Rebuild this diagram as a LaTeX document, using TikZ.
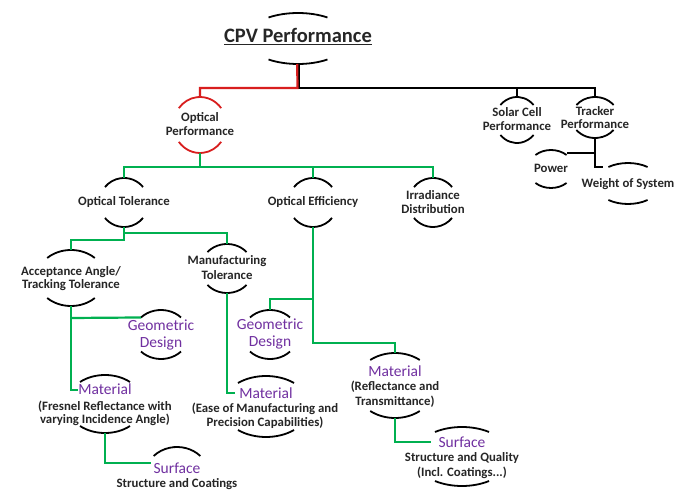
\documentclass[tikz,border=0pt]{standalone}
\usepackage{fontspec}
\setmainfont{Carlito}
\usetikzlibrary{calc}
\definecolor{cgreen}{HTML}{00B050}
\definecolor{cred}{HTML}{D81E1E}
\definecolor{cpurple}{HTML}{7030A0}
\tikzset{
  arcline/.style={line width=1.8pt},
  conn/.style={line width=2.2pt},
  blk/.style={font=\bfseries\fontsize{12.8}{15}\selectfont, text=black!85, inner sep=0pt},
  pur/.style={font=\fontsize{15.5}{18}\selectfont, text=cpurple, inner sep=0pt},
  ttl/.style={font=\bfseries\fontsize{20.5}{24}\selectfont, text=black!85, inner sep=0pt},
}
% name, x, y, rx, ry, angle, colour
\newcommand\arcpair[7]{%
  \coordinate (#1) at (#2,#3);
  \coordinate (#1-t) at (#2,#3-#5);
  \coordinate (#1-b) at (#2,#3+#5);
  \coordinate (#1-tl) at ($(#1)+(180-#6:#4pt and #5pt)$);
  \coordinate (#1-tr) at ($(#1)+(#6:#4pt and #5pt)$);
  \draw[arcline,#7] (#1-tr) arc[start angle=#6, end angle=180-#6, x radius=#4pt, y radius=#5pt];
  \draw[arcline,#7] ($(#1)+(180+#6:#4pt and #5pt)$) arc[start angle=180+#6, end angle=360-#6, x radius=#4pt, y radius=#5pt];
}
\newcommand\tl[5]{\node[#4,anchor=base] (#1) at (#2,#3) {#5};}
\begin{document}
\begin{tikzpicture}[x=1pt,y=-1pt]
\useasboundingbox (0,0) rectangle (686,494);
\fill[white] (0,0) rectangle (686,494);

% arcs
\arcpair{title}{298}{38.5}{52}{25.5}{55.5}{black}
\arcpair{optperf}{200}{125}{26.5}{28}{37}{cred}
\arcpair{solar}{517}{120}{21.8}{23}{40.7}{black}
\arcpair{tracker}{595}{117.5}{23.4}{20.5}{37.6}{black}
\arcpair{power}{551}{169}{23}{19}{47.5}{black}
\arcpair{weight}{628}{183.5}{33}{20.5}{53.6}{black}
\arcpair{opttol}{124}{202.5}{24.5}{24.5}{39}{black}
\arcpair{opteff}{313}{202.5}{24.5}{24.5}{39}{black}
\arcpair{irr}{433}{202.5}{24.5}{24.5}{39}{black}
\arcpair{accept}{71}{278}{34}{28}{45.6}{black}
\arcpair{manuf}{227}{268.5}{26.4}{24.5}{42.3}{black}
\arcpair{geoL}{161}{334.5}{27.8}{24.5}{44}{black}
\arcpair{geoM}{270}{334.5}{27.8}{24.5}{44}{black}
\arcpair{matL}{105}{404}{38.4}{29}{49.4}{black}
\arcpair{matM}{266}{406.5}{44}{30.5}{50.4}{black}
\arcpair{matR}{395}{385.5}{40}{32.5}{51.7}{black}
\arcpair{surfR}{462}{456.5}{48.6}{29.5}{56.2}{black}
% left Surface: only the upper arc lies inside the picture
\coordinate (surfL) at (177,475.5);
\coordinate (surfL-t) at (177,447);
\draw[arcline] ($(surfL)+(43.2:32pt and 28.5pt)$) arc[start angle=43.2, end angle=136.8, x radius=32pt, y radius=28.5pt];

% texts
\node[ttl,anchor=base] (t-title) at (298,43) {\underline{CPV Performance}};
\tl{t-op1}{200}{122}{blk}{Optical}
\tl{t-op2}{200}{136}{blk}{Performance}
\tl{t-sc1}{517}{117}{blk}{Solar Cell}
\tl{t-sc2}{517}{131}{blk}{Performance}
\tl{t-tr1}{595}{116}{blk}{Tracker}
\tl{t-tr2}{595}{129}{blk}{Performance}
\tl{t-pw}{551}{173}{blk}{Power}
\tl{t-wt}{628}{188}{blk}{Weight of System}
\tl{t-ot}{124}{206}{blk}{Optical Tolerance}
\tl{t-oe}{313}{206}{blk}{Optical Efficiency}
\tl{t-ir1}{433}{200}{blk}{Irradiance}
\tl{t-ir2}{433}{214}{blk}{Distribution}
\tl{t-ac1}{71}{276}{blk}{Acceptance Angle/}
\tl{t-ac2}{71}{289}{blk}{Tracking Tolerance}
\tl{t-mf1}{227}{265}{blk}{Manufacturing}
\tl{t-mf2}{227}{280}{blk}{Tolerance}
\tl{t-gl1}{161}{331}{pur}{Geometric}
\tl{t-gl2}{161}{348}{pur}{Design}
\tl{t-gm1}{270}{330}{pur}{Geometric}
\tl{t-gm2}{270}{347}{pur}{Design}
\tl{t-ml1}{105}{395}{pur}{Material}
\tl{t-ml2}{105}{411}{blk}{(Fresnel Reflectance with}
\tl{t-ml3}{105}{424}{blk}{varying Incidence Angle)}
\tl{t-mm1}{266}{399}{pur}{Material}
\tl{t-mm2}{265}{413}{blk}{(Ease of Manufacturing and}
\tl{t-mm3}{265}{427}{blk}{Precision Capabilities)}
\tl{t-mr1}{395}{377}{pur}{Material}
\tl{t-mr2}{395}{391}{blk}{(Reflectance and}
\tl{t-mr3}{395}{406}{blk}{Transmittance)}
\tl{t-sl1}{177}{473}{pur}{Surface}
\tl{t-sl2}{177}{487}{blk}{Structure and Coatings}
\tl{t-sr1}{462}{447}{pur}{Surface}
\tl{t-sr2}{462}{461}{blk}{Structure and Quality}
\tl{t-sr3}{462}{476}{blk}{(Incl. Coatings...)}

% bus coordinates
\coordinate (bus0) at (299,88);
\coordinate (bus0r) at (297.5,88);
\coordinate (trk-pw) at (595,153);
\coordinate (trk-wt) at (595,167);
\coordinate (wt-in) at (603,167);
\coordinate (gbus) at (200,167);
\coordinate (ot-l) at (124,240);
\coordinate (ot-r) at (124,233);
\coordinate (ac-geo) at (71,318);
\coordinate (matL-in) at (78,390);
\coordinate (surfL-in) at (151,463);
\coordinate (matM-in) at (235,393);
\coordinate (oe-geo) at (313,299);
\coordinate (oe-mat) at (313,343);
\coordinate (surfR-in) at (431,442);

% black connectors
\draw[conn] ($(title-b)+(1,0)$) -- (bus0) -| (tracker-t);
\draw[conn] (solar-t) -- (solar-t |- bus0);
\draw[conn] (tracker-b) -- (trk-wt) -- (wt-in);
\draw[conn] (trk-pw) -- (trk-pw -| power-tr);
% red connector
\draw[conn,cred] ($(title-b)+(-0.8,0)$) -- (bus0r) -| (optperf-t);
% green connectors
\draw[conn,cgreen] (optperf-b) -- (gbus) -| (opttol-t);
\draw[conn,cgreen] (gbus) -| (irr-t);
\draw[conn,cgreen] (opteff-t) -- (opteff-t |- gbus);
\draw[conn,cgreen] (opttol-b) -- (ot-l) -| (accept-t);
\draw[conn,cgreen] (ot-r) -| (manuf-t);
\draw[conn,cgreen] (accept-b) |- (matL-in);
\draw[conn,cgreen] (ac-geo) -- (geoL-tl);
\draw[conn,cgreen] (matL-b) |- (surfL-in);
\draw[conn,cgreen] (manuf-b) |- (matM-in);
\draw[conn,cgreen] (opteff-b) -- (oe-mat) -| (matR-t);
\draw[conn,cgreen] (oe-geo) -| (geoM-t);
\draw[conn,cgreen] (matR-b) |- (surfR-in);
\end{tikzpicture}
\end{document}
